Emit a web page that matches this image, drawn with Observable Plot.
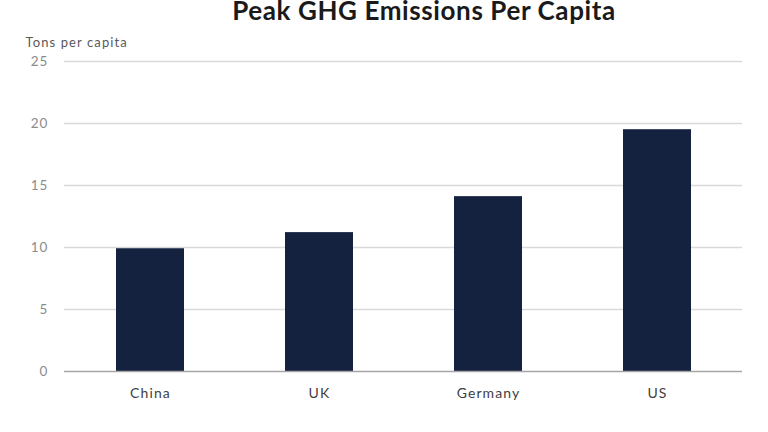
<!DOCTYPE html>
<html>
<head>
<meta charset="utf-8">
<script src="https://cdn.jsdelivr.net/npm/d3@7"></script>
<script src="https://cdn.jsdelivr.net/npm/@observablehq/plot@0.6"></script>
<style>
  html, body { margin: 0; padding: 0; background: #fff; }
  body { width: 768px; height: 432px; overflow: hidden; font-family: Lato, "Open Sans", sans-serif; }
  #title { position: relative; height: 26px; }
  #title span { position: absolute; left: 424px; top: 0px; transform: translateX(-50%); white-space: nowrap;
    font: bold 26px/20px Lato, sans-serif; color: #1a1a1a; letter-spacing: 0.6px; }
  #chart svg text { letter-spacing: 1.1px; }
</style>
</head>
<body>
<div id="title"><span>Peak GHG Emissions Per Capita</span></div>
<div id="chart"></div>
<script>
const categories = ["China", "UK", "Germany", "US"];
const values = [9.9, 11.2, 14.1, 19.5];
const yTicks = [0, 5, 10, 15, 20, 25];
const yLabel = "Tons per capita";

const data = categories.map((c, i) => ({category: c, value: values[i]}));

const chart = Plot.plot({
  width: 768,
  height: 406,
  marginTop: 35,
  marginBottom: 61,
  marginLeft: 64,
  marginRight: 26,
  style: {fontFamily: "Lato, sans-serif", fontSize: "13px", background: "#fff"},
  x: {domain: categories, paddingInner: 0.6, paddingOuter: 0.3, label: null, tickSize: 0, tickPadding: 17},
  y: {domain: [0, 25], ticks: yTicks, label: null, tickSize: 0, tickPadding: 17},
  marks: [
    Plot.gridY(yTicks.filter(d => d > 0), {stroke: "#d9d9d9", strokeOpacity: 1, strokeWidth: 1.6}),
    Plot.axisY({ticks: yTicks, tickSize: 0, tickPadding: 16, label: null, color: "#8c8c8c", fontSize: 13.5}),
    Plot.axisX({tickSize: 0, tickPadding: 17, label: null, color: "#404040", fontSize: 14}),
    Plot.barY(data, {x: "category", y: "value", fill: "#14213f"}),
    Plot.ruleY([0], {stroke: "#a6a6a6", strokeWidth: 1.4}),
    Plot.text([yLabel], {frameAnchor: "top-left", dx: -39, dy: -24, textAnchor: "start", fill: "#595959", fontSize: 13})
  ]
});
document.getElementById("chart").appendChild(chart);
</script>
</body>
</html>
